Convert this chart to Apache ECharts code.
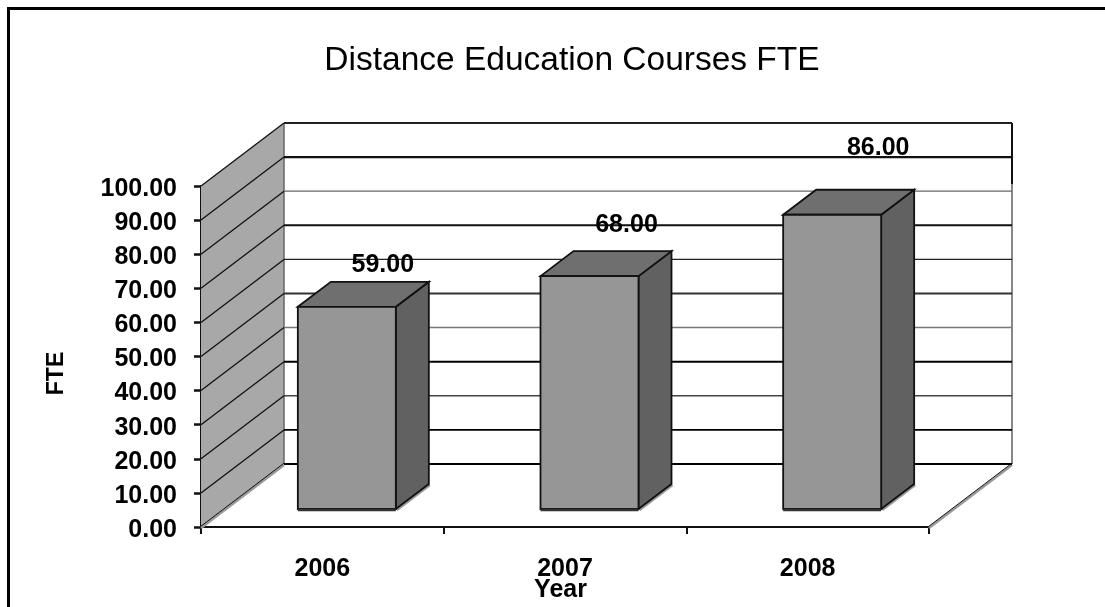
<!DOCTYPE html>
<html><head><meta charset="utf-8">
<style>html,body{margin:0;padding:0;background:#fff}#c{width:1105px;height:607px}</style>
<script src="https://cdn.jsdelivr.net/npm/echarts@6/dist/echarts.min.js"></script>
</head><body><div id="c"></div>
<script>
const years = ['2006','2007','2008'];
const fte = [59, 68, 86];
const fteLabels = ['59.00','68.00','86.00'];
const yTicks = [0,10,20,30,40,50,60,70,80,90,100];
const labelOffsets = [[36,-43],[37,-52],[46,-68]];
const gridWidths = [2,1.8,1.5,2,1.5,2,1.1,2,1.2,2.2,2];
const gridColors = ['#000','#000','#444','#000','#777','#333','#222','#111','#666','#111','#222'];

const FONT = '"Liberation Sans", Arial, sans-serif';
const WALL = {dx:83, dy:-63};
const BAR = {off:24.5, hw:49, fdy:-18, topdy:-19, ddx:33, ddy:-25};
const INK = '#111';

function poly(points, fill, stroke, lw){
  return {type:'polygon', shape:{points}, style:{fill, stroke:stroke||null, lineWidth:lw||0}};
}
function line(a,b,stroke,lw){
  return {type:'line', shape:{x1:a[0],y1:a[1],x2:b[0],y2:b[1]}, style:{stroke, lineWidth:lw, fill:null}};
}
function renderWall(params, api){
  const i = params.dataIndex, v = api.value(0);
  const cs = params.coordSys, xl = cs.x, xr = cs.x+cs.width;
  const y = api.coord([0,v])[1];
  const kids = [];
  if(i===0){
    const yT = cs.y, yB = cs.y+cs.height;
    kids.push(poly([[xl,yB],[xl+WALL.dx,yB+WALL.dy],[xl+WALL.dx,yT+WALL.dy],[xl,yT]],'#a8a8a8'));
    kids.push(line([xl+WALL.dx,yT+WALL.dy],[xl+WALL.dx,yB+WALL.dy],'#666',1.5));
    kids.push(line([xr+WALL.dx,yT+WALL.dy],[xr+WALL.dx,yB+WALL.dy],INK,1));
    kids.push(line([xr+WALL.dx,yT+WALL.dy],[xr+WALL.dx,yT+WALL.dy+61],INK,2));
    kids.push(line([xl,yB+1],[xl+WALL.dx,yB+WALL.dy+1],'#999',2.5));
    kids.push(line([xr,yB+1],[xr+WALL.dx,yB+WALL.dy+1],'#999',2.5));
    kids.push(line([xl,yB-0.8],[xl+WALL.dx,yB+WALL.dy-0.8],INK,1));
    kids.push(line([xr,yB-0.8],[xr+WALL.dx,yB+WALL.dy-0.8],INK,1));
  }
  if(v>0) kids.push(line([xl,y],[xl+WALL.dx,y+WALL.dy],INK,1.3));
  kids.push(line([xl+WALL.dx,y+WALL.dy],[xr+WALL.dx,y+WALL.dy],gridColors[i],gridWidths[i]));
  return {type:'group', children:kids};
}
function renderBar(params, api){
  const c = api.coord([api.value(0), api.value(1)]);
  const base = api.coord([api.value(0), 0]);
  const x0 = c[0]+BAR.off-BAR.hw, x1 = c[0]+BAR.off+BAR.hw;
  const yt = c[1]+BAR.topdy, yb = base[1]+BAR.fdy;
  const d = [BAR.ddx,BAR.ddy];
  const kids = [
    line([x1+1,yb+1],[x1+d[0]+1,yb+d[1]+1],'#999',2.5),
    poly([[x1,yt],[x1+d[0],yt+d[1]],[x1+d[0],yb+d[1]],[x1,yb]],'#616161',INK,1.8),
    poly([[x0,yt],[x0+d[0],yt+d[1]],[x1+d[0],yt+d[1]],[x1,yt]],'#6f6f6f',INK,1.8),
    poly([[x0,yt],[x1,yt],[x1,yb],[x0,yb]],'#969696',INK,1.8),
    line([x0,yb+1],[x1,yb+1],'#333',2.5)
  ];
  return {type:'group', children:kids};
}
function renderLabel(params, api){
  const i = params.dataIndex;
  const c = api.coord([api.value(0), api.value(1)]);
  const o = labelOffsets[i];
  return {type:'text', style:{
    x:c[0]+BAR.off+o[0], y:c[1]+BAR.fdy+o[1], text:fteLabels[i],
    font:'bold 25px '+FONT, fill:'#000', align:'center', verticalAlign:'middle'}};
}
const chart = echarts.init(document.getElementById('c'), null, {renderer:'canvas'});
chart.setOption({
  backgroundColor:'#fff',
  animation:false,
  title:{text:'Distance Education Courses FTE', left:567, top:39, textAlign:'center',
    textStyle:{fontFamily:FONT, fontSize:33.5, fontWeight:'normal', color:'#000'}},
  grid:{left:201, right:176, top:186, bottom:80, containLabel:false, outerBoundsMode:'none'},
  xAxis:{type:'category', data:years, name:'Year', nameLocation:'middle', nameGap:63, nameMoveOverlap:false,
    nameTextStyle:{fontFamily:FONT, fontSize:25, fontWeight:'bold', color:'#000', padding:[0,9,0,0], verticalAlign:'middle'},
    axisLine:{lineStyle:{color:INK,width:2}},
    axisTick:{show:true,alignWithLabel:false,length:7,lineStyle:{color:INK,width:2}},
    axisLabel:{fontFamily:FONT, fontSize:25, fontWeight:'bold', color:'#000', margin:30},
    splitLine:{show:false}},
  yAxis:{type:'value', min:0, max:100, interval:10, name:'FTE', nameLocation:'middle', nameGap:133, nameRotate:90,
    nameTextStyle:{fontFamily:FONT, fontSize:23, fontWeight:'bold', color:'#000', padding:[0,34,0,0]},
    axisLine:{show:true,lineStyle:{color:INK,width:2}},
    axisTick:{show:true,length:7,lineStyle:{color:INK,width:2.5}},
    axisLabel:{margin:24, formatter:v=>'{t|'+v.toFixed(2)+'}',
      rich:{t:{fontFamily:FONT, fontSize:25, fontWeight:'bold', color:'#000', padding:[6,0,0,0]}}},
    splitLine:{show:false}},
  series:[
    {type:'custom', name:'walls', coordinateSystem:'cartesian2d', z:1, clip:false,
      encode:{y:0}, data:yTicks.map(v=>[v]), renderItem:renderWall},
    {type:'custom', name:'FTE', coordinateSystem:'cartesian2d', z:2, clip:false,
      encode:{x:0,y:1}, data:fte.map((v,i)=>[i,v]), renderItem:renderBar},
    {type:'custom', name:'labels', coordinateSystem:'cartesian2d', z:3, clip:false,
      encode:{x:0,y:1}, data:fte.map((v,i)=>[i,v]), renderItem:renderLabel}
  ],
  graphic:[
    {type:'polyline', z:10, shape:{points:[[8.5,607],[8.5,8.5],[1105,8.5]]}, style:{stroke:'#000',lineWidth:3,fill:null}}
  ]
});
</script></body></html>
